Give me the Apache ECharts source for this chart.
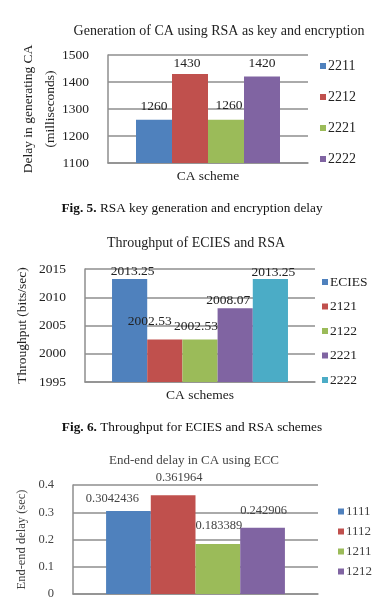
<!DOCTYPE html>
<html>
<head>
<meta charset="utf-8">
<script src="https://cdn.jsdelivr.net/npm/echarts@6/dist/echarts.min.js"></script>
<style>
  html, body { margin: 0; padding: 0; background: #fff; }
  #main { width: 382px; height: 601px; }
</style>
</head>
<body>
<div id="main"></div>
<script>
// Fig. 5 - RSA key generation and encryption delay
const rsaSchemes = ["2211", "2212", "2221", "2222"];
const rsaDelay = [1260, 1430, 1260, 1420];
const rsaAxis = [1100, 1500, 100];

// Fig. 6 - throughput of ECIES and RSA
const tpSchemes = ["ECIES", "2121", "2122", "2221", "2222"];
const tpValues = [2013.25, 2002.53, 2002.53, 2008.07, 2013.25];
const tpAxis = [1995, 2015, 5];

// End-end delay using ECC
const eccSchemes = ["1111", "1112", "1211", "1212"];
const eccDelay = [0.3042436, 0.361964, 0.183389, 0.242906];
const eccAxis = [0, 0.4, 0.1];

const BLUE = "#4f81bd", RED = "#c0504d", GREEN = "#9bbb59", PURPLE = "#8064a2", CYAN = "#4bacc6";
const FONT = "Liberation Serif";
const GRID_C = "#8e8e8e";

// per chart look (label nudges are purely cosmetic)
const charts = [
  {
    names: rsaSchemes, values: rsaDelay, axis: rsaAxis,
    colors: [BLUE, RED, GREEN, PURPLE],
    grid: { left: 108, top: 55, width: 200, height: 108 },
    gap: "28%", xName: "CA scheme", xGap: 6,
    yName: "Delay in generating CA\n(milliseconds)", yGap: 47, yLine: 22,
    font: 13.5, legendFont: 14, text: "#222",
    offsets: [[0, -6], [-3, -3], [3, -7], [0, -6]],
    legend: { left: 315, top: 54, itemGap: 17 }
  },
  {
    names: tpSchemes, values: tpValues, axis: tpAxis,
    colors: [BLUE, RED, GREEN, PURPLE, CYAN],
    grid: { left: 85, top: 269, width: 230, height: 113 },
    gap: "23.5%", xName: "CA schemes", xGap: 6,
    yName: "Throughput (bits/sec)", yGap: 53, yLine: 20,
    font: 13.5, legendFont: 13.5, text: "#222",
    offsets: [[3, 0], [-15, -11], [-4, -6], [-7, -1], [3, 1]],
    legend: { left: 317, top: 270, itemGap: 10.5 }
  },
  {
    names: eccSchemes, values: eccDelay, axis: eccAxis,
    colors: [BLUE, RED, GREEN, PURPLE],
    grid: { left: 73, top: 485, width: 245, height: 109 },
    gap: "27%", xName: "CA schemes", xGap: 6,
    yName: "End-end delay (sec)", yGap: 41, yLine: 20,
    font: 12.5, legendFont: 13, text: "#444",
    offsets: [[-16, -5], [6, -11], [1, -11], [1, -10]],
    legend: { left: 333, top: 500, itemGap: 7 }
  }
];

const grid = [], xAxis = [], yAxis = [], legend = [], series = [];

charts.forEach((c, k) => {
  grid.push(Object.assign({ outerBoundsMode: "none", containLabel: false }, c.grid));
  xAxis.push({
    type: "category", gridIndex: k, data: [""],
    axisLabel: { show: false }, axisTick: { show: false },
    axisLine: { lineStyle: { color: GRID_C, width: 1.5 } },
    name: c.xName, nameLocation: "middle", nameGap: c.xGap,
    nameTextStyle: { fontFamily: FONT, fontSize: c.font, color: c.text }
  });
  yAxis.push({
    type: "value", gridIndex: k,
    min: c.axis[0], max: c.axis[1], interval: c.axis[2],
    axisLine: { show: true, lineStyle: { color: GRID_C, width: 1.5 } },
    axisTick: { show: false },
    splitLine: { lineStyle: { color: GRID_C, width: 1.5 } },
    axisLabel: { fontFamily: FONT, fontSize: c.font, color: c.text, margin: 19,
      formatter: v => String(+v.toFixed(4)) },
    name: c.yName, nameLocation: "middle", nameGap: c.yGap, nameMoveOverlap: false,
    nameTextStyle: { fontFamily: FONT, fontSize: c.font, color: c.text, lineHeight: c.yLine }
  });
  legend.push({
    orient: "vertical", left: c.legend.left, top: c.legend.top,
    itemGap: c.legend.itemGap, itemWidth: 6, itemHeight: 6, icon: "rect",
    selectedMode: false,
    textStyle: { fontFamily: FONT, fontSize: c.legendFont, color: c.text, padding: [0, 0, 0, -3] },
    data: c.names.map((n, i) => ({ name: n, itemStyle: { color: c.colors[i] } }))
  });
  c.names.forEach((n, i) => {
    series.push({
      type: "bar", name: n, xAxisIndex: k, yAxisIndex: k,
      data: [c.values[i]],
      barGap: 0, barCategoryGap: c.gap,
      itemStyle: { color: c.colors[i] },
      label: {
        show: true, position: "top", distance: 0,
        offset: c.offsets[i],
        fontFamily: FONT, fontSize: c.font, color: c.text, lineHeight: 14
      }
    });
  });
});

const chart = echarts.init(document.getElementById("main"), null, { renderer: "canvas" });
chart.setOption({
  animation: false,
  backgroundColor: "#fff",
  grid, xAxis, yAxis, legend, series,
  graphic: [
    { type: "text", x: 219, y: 31, style: { text: "Generation of CA using RSA as key and encryption", font: "14px " + FONT, fill: "#222", align: "center", verticalAlign: "middle" } },
    { type: "text", x: 192, y: 209, style: { text: "{b|Fig. 5.} RSA key generation and encryption delay", font: "13.3px " + FONT, fill: "#111", align: "center", verticalAlign: "middle",
      rich: { b: { fontFamily: FONT, fontSize: 13.3, fontWeight: "bold", fill: "#111" } } } },
    { type: "text", x: 196, y: 243, style: { text: "Throughput of ECIES and RSA", font: "14px " + FONT, fill: "#222", align: "center", verticalAlign: "middle" } },
    { type: "text", x: 192, y: 428, style: { text: "{b|Fig. 6.} Throughput for ECIES and RSA schemes", font: "13.3px " + FONT, fill: "#111", align: "center", verticalAlign: "middle",
      rich: { b: { fontFamily: FONT, fontSize: 13.3, fontWeight: "bold", fill: "#111" } } } },
    { type: "text", x: 194, y: 461, style: { text: "End-end delay in CA using ECC", font: "13px " + FONT, fill: "#444", align: "center", verticalAlign: "middle" } }
  ]
});
</script>
</body>
</html>
